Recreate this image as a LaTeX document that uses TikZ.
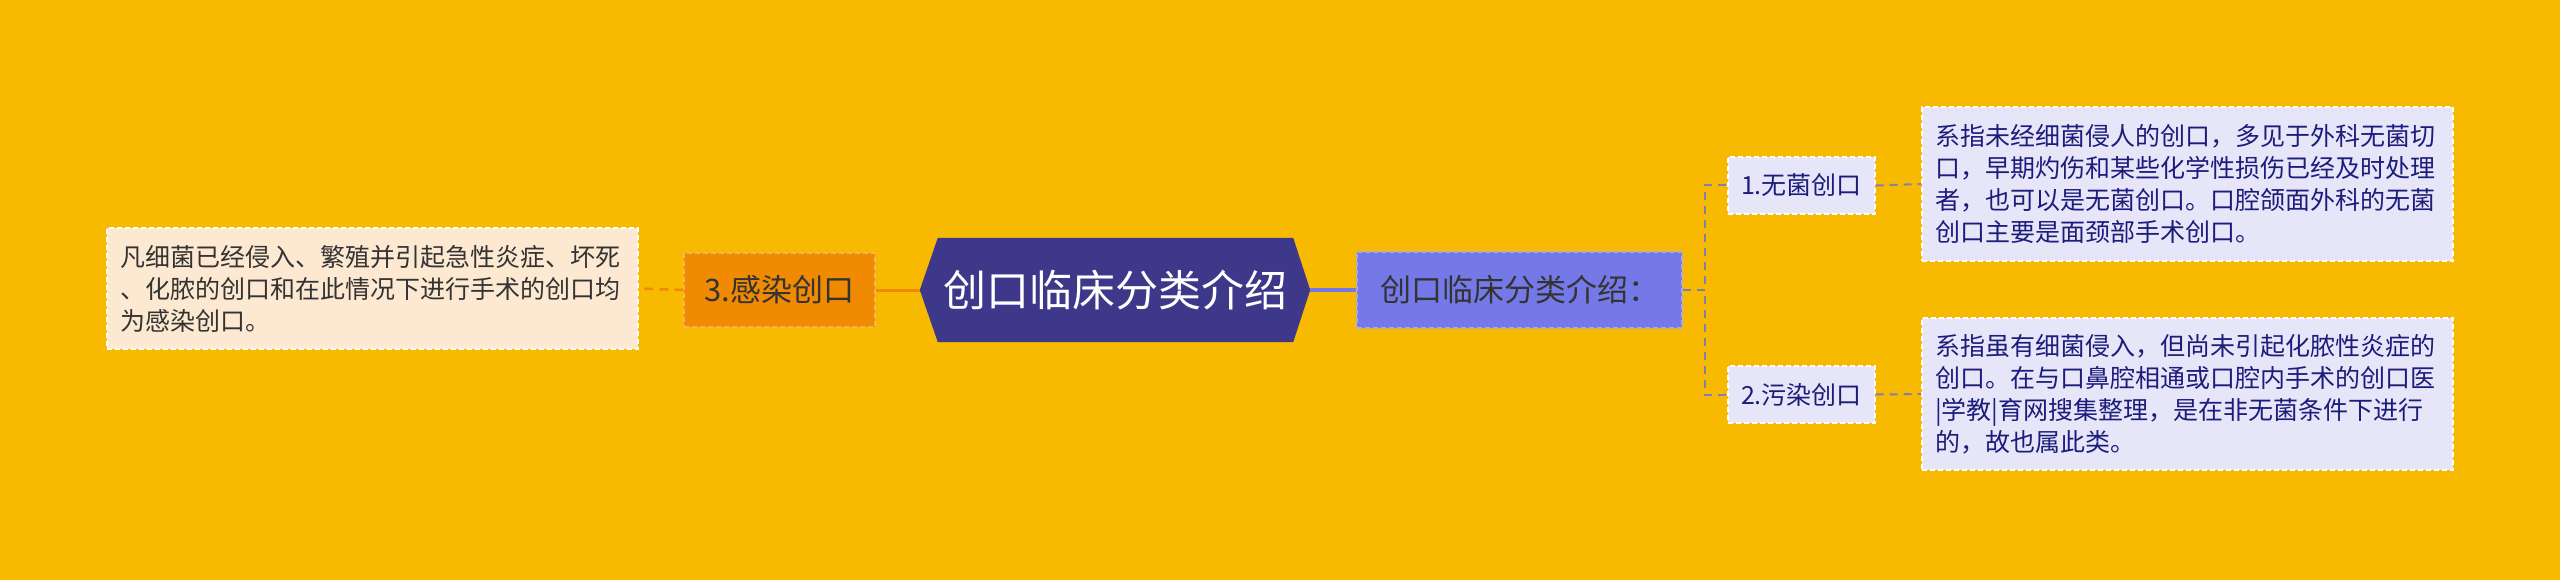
\documentclass[tikz,border=0pt]{standalone}
\usepackage{fontspec}
\setmainfont{Noto Sans CJK SC}
\usetikzlibrary{backgrounds}
\definecolor{bgyellow}{RGB}{247,186,0}
\definecolor{rootfill}{RGB}{62,56,138}
\definecolor{leftfill}{RGB}{240,138,2}
\definecolor{leftnote}{RGB}{253,233,210}
\definecolor{rightfill}{RGB}{117,121,232}
\definecolor{subfill}{RGB}{230,230,248}
\definecolor{navytext}{RGB}{28,28,125}
\definecolor{darktext}{RGB}{51,51,51}
\definecolor{linkgray}{RGB}{128,128,172}

\begin{document}
\begin{tikzpicture}[x=1pt, y=-1pt,
    box/.style={rectangle, line width=1.2pt, dash pattern=on 5pt off 3pt, inner sep=0pt},
    small/.style={font=\fontsize{25}{32}\selectfont},
    mid/.style={font=\fontsize{31}{38}\selectfont},
    note/.style={box, small, align=left, text width=505pt, inner xsep=13pt},
    leaf/.style={box, small, fill=subfill, draw=white, text=navytext,
        minimum width=147pt, minimum height=57pt},
    link/.style={linkgray, line width=2pt, dash pattern=on 8pt off 6pt}]
    % Background
    \begin{scope}[on background layer]
        \fill[bgyellow] (0,0) rectangle (2560,580);
    \end{scope}
    \useasboundingbox (0,0) rectangle (2560,580);
    % Root
    \node[text=white, font=\fontsize{43}{50}\selectfont, inner sep=0pt,
        minimum width=355pt, minimum height=104pt] (root) at (1115.5,290) {创口临床分类介绍};
    \begin{scope}[on background layer]
        \fill[rootfill] (root.north west) -- (root.north east) -- ([xshift=17pt]root.east)
            -- (root.south east) -- (root.south west) -- ([xshift=-18pt]root.west) -- cycle;
    \end{scope}
    % Left side
    \node[box, mid, fill=leftfill, draw=white!35!leftfill, text=darktext,
        minimum width=191pt, minimum height=74pt] (lnode) at (779.5,290) {3.感染创口};
    \node[note, fill=leftnote, draw=white, text=darktext, minimum height=121pt] (lnote) at (372.5,288.5)
        {凡细菌已经侵入、繁殖并引起急性炎症、坏死\\、化脓的创口和在此情况下进行手术的创口均\\为感染创口。};
    % Right side
    \node[box, mid, fill=rightfill, draw=white!35!rightfill, text=darktext,
        minimum width=325pt, minimum height=76pt] (rnode) at (1519.5,290) {创口临床分类介绍：};
    \foreach \name/\i/\y in {{1.无菌创口}/1/185.5, {2.污染创口}/2/394.5} {
        \node[leaf] (leaf\i) at (1801.5,\y) {\name};
    }
    \node[note, fill=subfill, draw=white, text=navytext, minimum height=154pt] (note1) at (2187.5,184)
        {系指未经细菌侵人的创口，多见于外科无菌切\\口，早期灼伤和某些化学性损伤已经及时处理\\者，也可以是无菌创口。口腔颌面外科的无菌\\创口主要是面颈部手术创口。};
    \node[note, fill=subfill, draw=white, text=navytext, minimum height=152pt] (note2) at (2187.5,394)
        {系指虽有细菌侵入，但尚未引起化脓性炎症的\\创口。在与口鼻腔相通或口腔内手术的创口医\\|学教|育网搜集整理，是在非无菌条件下进行\\的，故也属此类。};
    % Connectors
    \draw[leftfill, line width=3pt] ([xshift=-18pt]root.west) -- (lnode.east);
    \draw[leftfill, line width=2.5pt, dash pattern=on 9pt off 6pt] (lnode.west) -- (lnote.east);
    \draw[rightfill, line width=3.5pt] ([xshift=17pt]root.east) -- (rnode.west);
    \foreach \i in {1,2} {
        \draw[link] (rnode.east) -- ++(22,0) |- (leaf\i.west);
        \draw[link] (leaf\i.east) -- (note\i.west);
    }
\end{tikzpicture}
\end{document}
